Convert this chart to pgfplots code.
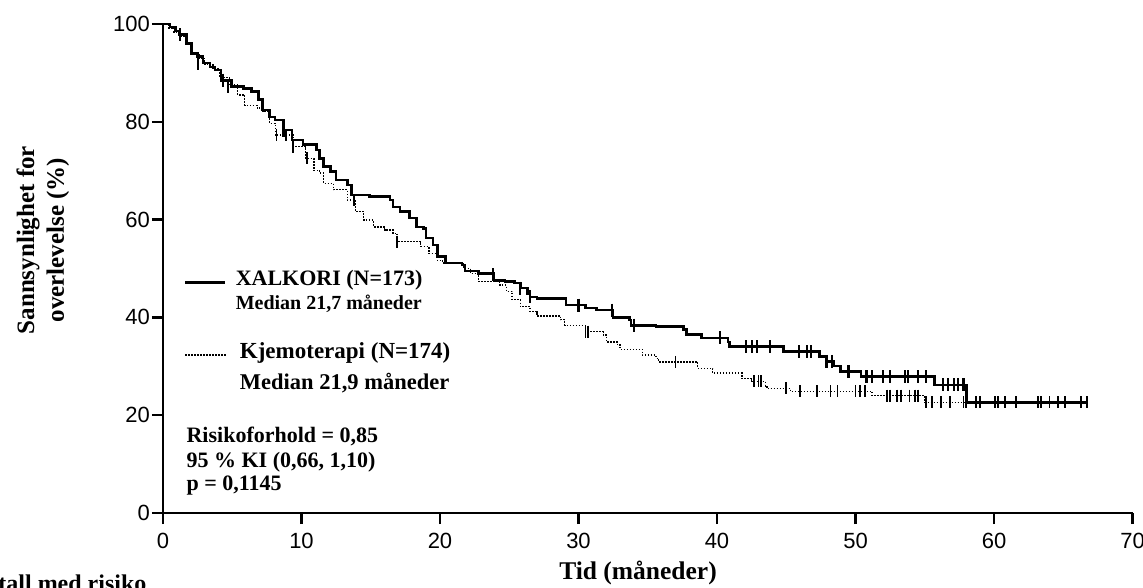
\documentclass[border=0pt]{standalone}
\usepackage{fontspec}
\setmainfont{Liberation Serif}
\newfontfamily\tickfont{Liberation Sans}
\usepackage{pgfplots}
\pgfplotsset{compat=1.18}

% Kaplan-Meier, XALKORI vs kjemoterapi
\pgfplotstableread{
x y
0 100
0.5 99.4
0.9 98.6
1.2 97.8
1.7 96.0
2.07 94.0
2.5 93.4
2.9 92.0
3.4 91.2
3.75 90.6
4.2 88.5
4.96 87.2
5.8 86.8
6.4 86.2
6.9 84.5
7.2 82.4
7.7 81.0
8.1 80.4
8.7 78.3
9.3 76.3
10.1 75.3
11.1 74.2
11.3 72.5
11.6 70.8
12.1 69.8
12.5 68.1
13.3 67.1
13.6 65.0
14.9 64.7
16.4 64.0
16.6 62.6
17.1 61.6
17.8 60.3
18.3 58.5
18.8 58.2
19.0 56.2
19.5 54.8
19.8 52.4
20.4 51.1
21.6 50.7
21.8 49.5
22.8 49.0
23.9 47.6
24.7 47.3
25.4 47.0
25.8 46.0
26.3 44.9
26.5 44.2
27.0 43.9
29.1 42.5
30.5 41.9
31.3 41.5
32.5 40.0
33.7 39.5
33.8 38.4
35.6 38.1
37.6 37.5
37.8 36.5
38.9 35.8
40.8 35.0
40.9 34.0
44.8 33.0
47.4 32.0
47.9 31.0
48.4 30.1
48.9 28.9
50.4 27.9
55.7 26.2
58.0 22.6
66.7 22.6
}\xalkori

\pgfplotstableread{
x y
0 100
0.4 99.2
0.8 98.3
1.3 97.4
1.7 95.8
2.1 93.8
2.6 93.0
3.0 91.8
3.6 90.8
4.1 89.0
4.8 87.5
5.4 85.5
5.9 83.4
6.8 82.8
7.2 82.1
7.7 79.7
8.1 77.3
9.4 74.9
10.3 72.5
10.9 70.1
11.3 69.5
11.6 67.4
12.3 66.1
13.3 64.0
13.9 61.6
14.5 59.9
15.2 58.5
16.0 57.9
16.6 57.2
16.9 55.5
18.6 54.5
19.2 53.1
19.8 51.7
20.2 51.1
21.7 50.0
22.2 49.0
22.8 47.3
24.3 46.6
24.8 45.3
25.2 43.6
25.8 42.2
26.5 41.2
27.0 40.3
28.7 39.5
29.0 38.4
30.5 37.1
31.8 36.4
32.0 35.0
32.8 34.4
33.0 33.5
34.6 32.3
35.6 31.6
35.8 30.9
38.6 29.6
39.7 28.6
41.8 27.5
42.5 26.9
43.5 26.0
43.6 25.5
45.3 24.9
51.2 24.0
55.0 22.6
66.7 22.6
}\kjemo

\begin{document}
\begin{tikzpicture}
\useasboundingbox (-163pt,-74pt) rectangle (980pt,513pt);
\begin{axis}[
    at={(0pt,0pt)}, anchor=south west,
    scale only axis,
    width=969.5pt, height=489pt,
    xmin=0, xmax=70, ymin=0, ymax=100,
    xtick={0,10,...,70}, ytick={0,20,...,100},
    axis x line*=bottom, axis y line*=left,
    axis line style={line width=2.2pt, -},
    tick align=outside, tick pos=left,
    major tick length=11pt,
    every tick/.style={black, line width=2.2pt},
    ticklabel style={font=\tickfont\fontsize{22}{26}\selectfont},
    yticklabel style={inner xsep=2pt},
    xticklabel style={yshift=-6pt},
    /pgf/number format/assume math mode=true,
    clip=false,
]
\addplot[const plot, black, line width=1.3pt, dash pattern=on 1.5pt off 1.5pt] table {\kjemo};
\addplot[const plot, black, line width=2.6pt] table {\xalkori};

% sensurerte (XALKORI)
\addplot[only marks, mark=|, mark size=6.5pt, mark options={line width=2.2pt}] coordinates {
(1.2,97.8)(2.55,92.0)(4.35,88.5)(4.7,87.2)(8.7,78.3)(23.8,48.7)(25.8,46.0)(26.5,44.2)
(30.0,42.5)(32.4,41.5)(34.0,38.4)(40.2,35.8)(42.1,34.0)(42.5,34.0)(42.9,34.0)(43.8,34.0)
(45.9,33.0)(46.5,33.0)(46.8,33.0)(47.9,31.0)(48.3,31.0)(49.5,28.9)
(50.8,27.9)(51.2,27.9)(52.0,27.9)(52.5,27.9)(53.6,27.9)(53.8,27.9)(54.5,27.9)(55.1,27.9)
(56.3,26.2)(56.7,26.2)(57.1,26.2)(57.4,26.2)(57.8,26.2)};

% sensurerte (kjemoterapi)
\addplot[only marks, mark=|, mark size=6pt, mark options={line width=1.8pt}] coordinates {
(8.2,77.3)(8.9,77.3)(9.4,74.9)(10.4,72.5)(13.8,64.0)(16.9,55.5)(30.5,37.1)(30.7,37.1)
(37.0,30.9)(42.7,26.9)(43.0,26.9)(43.2,26.9)(45.0,25.5)(46.0,24.9)(47.2,24.9)(48.2,24.9)
(48.7,24.9)(50.0,24.9)(50.3,24.9)(50.7,24.9)(52.3,24.0)(52.5,24.0)(53.0,24.0)(53.3,24.0)
(53.9,24.0)(54.3,24.0)(54.5,24.0)(55.1,22.6)(55.5,22.6)(56.2,22.6)(56.8,22.6)(57.8,22.6)
(58.0,22.6)(58.7,22.6)(59.0,22.6)(60.1,22.6)(60.3,22.6)(60.8,22.6)(61.6,22.6)(63.2,22.6)
(63.4,22.6)(64.0,22.6)(64.6,22.6)(65.1,22.6)(66.3,22.6)(66.7,22.6)};

% forklaring
\draw[line width=3pt] (axis cs:1.6,47.2) -- (axis cs:4.5,47.2);
\node[anchor=base west, font=\bfseries\fontsize{22}{26}\selectfont] at (axis cs:5.0,46.6) {XALKORI (N=173)};
\node[anchor=base west, font=\bfseries\fontsize{20}{26}\selectfont] at (axis cs:5.0,41.7) {Median 21,7 måneder};
\draw[line width=1.3pt, dash pattern=on 1.5pt off 1.5pt] (axis cs:1.6,32.3) -- (axis cs:4.6,32.3);
\node[anchor=base west, font=\bfseries\fontsize{23}{26}\selectfont] at (axis cs:5.3,31.5) {Kjemoterapi (N=174)};
\node[anchor=base west, font=\bfseries\fontsize{22.5}{26}\selectfont] at (axis cs:5.3,25.2) {Median 21,9 måneder};
\node[anchor=base west, font=\bfseries\fontsize{22}{26}\selectfont] at (axis cs:1.45,14.5) {Risikoforhold = 0,85};
\node[anchor=base west, font=\bfseries\fontsize{22}{26}\selectfont] at (axis cs:1.45,9.4) {95 \% KI (0,66, 1,10)};
\node[anchor=base west, font=\bfseries\fontsize{22}{26}\selectfont] at (axis cs:1.45,4.5) {p = 0,1145};

% aksetitler
\node[anchor=base, font=\bfseries\fontsize{25.5}{28}\selectfont] at (axis cs:34.3,-13.7) {Tid (måneder)};
\node[anchor=base, rotate=90, font=\bfseries\fontsize{25}{28}\selectfont] at (axis cs:-9.31,55.8) {Sannsynlighet for};
\node[anchor=base, rotate=90, font=\bfseries\fontsize{25}{28}\selectfont] at (axis cs:-7.15,55.8) {overlevelse (\%)};
\node[anchor=base east, font=\bfseries\fontsize{24}{28}\selectfont] at (axis cs:-0.94,-16.15) {Antall med risiko};
\end{axis}
\end{tikzpicture}
\end{document}
